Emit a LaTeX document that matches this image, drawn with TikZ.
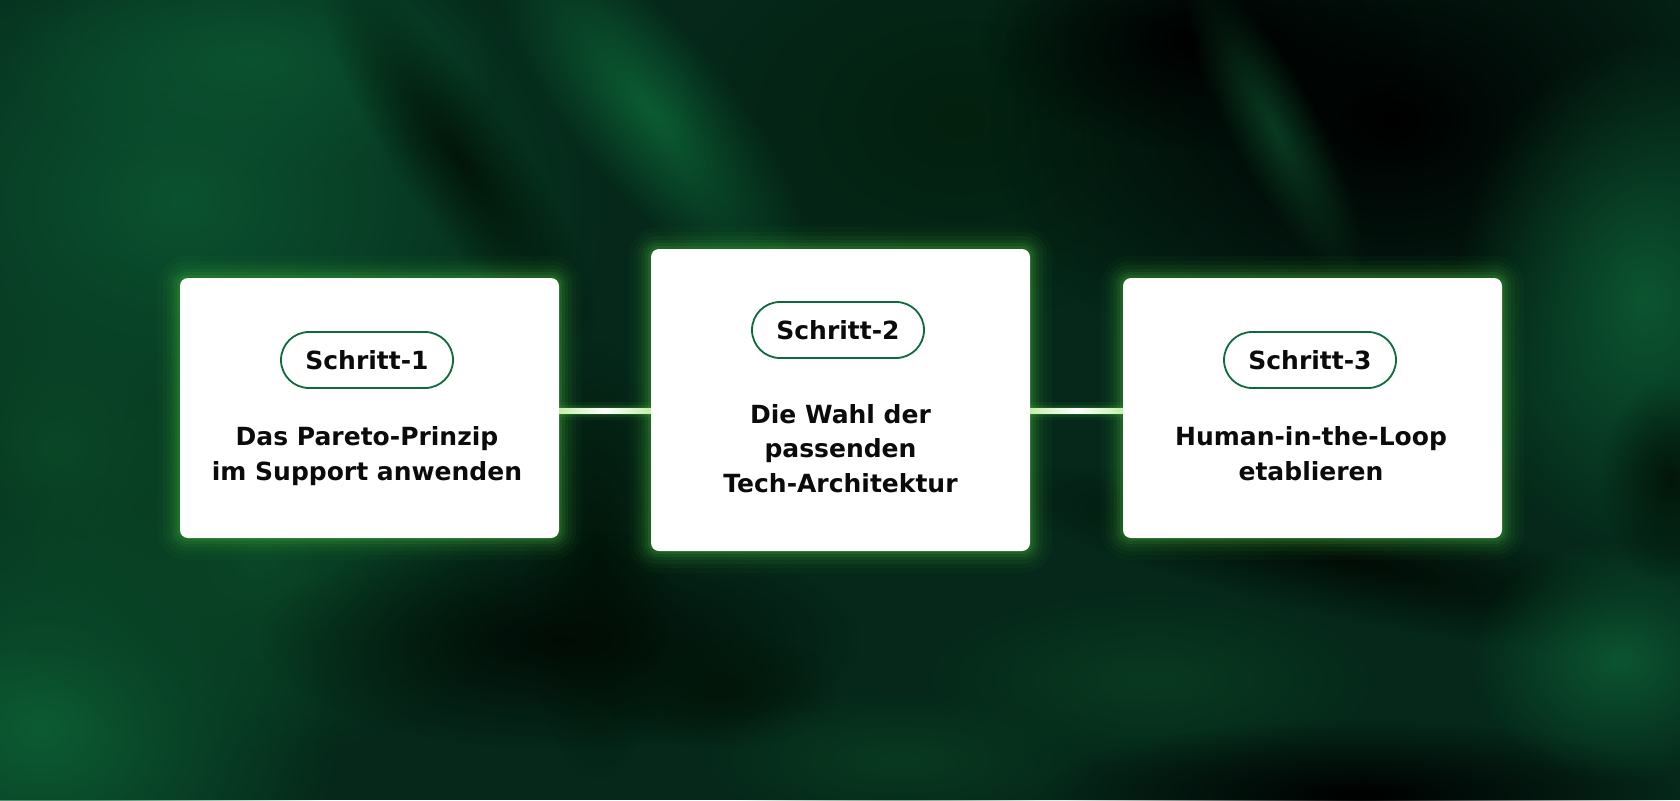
\documentclass[tikz,border=0pt]{standalone}
\usepackage{fontspec}
\newfontfamily\uifont{DejaVu Sans}
\usetikzlibrary{fadings,calc}
\tikzfading[name=blob, inner color=transparent!0, outer color=transparent!100]
\definecolor{bgbase}{HTML}{05281A}
\definecolor{ink}{HTML}{0B0B0B}
\definecolor{pillgreen}{HTML}{0D6B3B}
\definecolor{glowc}{HTML}{43B23A}
\definecolor{linegreen}{HTML}{C4EFA8}
\definecolor{gA}{HTML}{0B5230}
\definecolor{gB}{HTML}{0C5C33}
\definecolor{gC}{HTML}{0A4727}
\definecolor{dA}{HTML}{021609}
\definecolor{dB}{HTML}{010C05}
\definecolor{dC}{HTML}{03200F}
\definecolor{gD}{HTML}{093A20}
\definecolor{gE}{HTML}{0C5531}
\pgfdeclarelayer{back}
\pgfdeclarelayer{glow}
\pgfsetlayers{back,glow,main}
\newcommand{\myblob}[5]{% color, cx, cy, rx, ry
  \fill[#1, path fading=blob] (#2,#3) ellipse (#4 and #5);}
\newcommand{\myrblob}[6]{% color, cx, cy, rx, ry, angle
  \begin{scope}[transform canvas={shift={(#2,#3)},rotate=#6}]
  \fill[#1, path fading=blob] (0,0) ellipse (#4 and #5);
  \end{scope}}
\begin{document}
\begin{tikzpicture}[x=1pt,y=-1pt,
  stepbox/.style={fill=white, rounded corners=8pt, minimum width=379pt, minimum height=260pt, inner sep=0pt},
  pill/.style={draw=pillgreen, line width=1.8pt, fill=white, rounded corners=28pt,
    minimum width=172pt, minimum height=56pt, inner sep=0pt,
    font=\uifont\bfseries\fontsize{25}{30}\selectfont, text=ink},
  body/.style={align=center, inner sep=0pt, text=ink,
    font=\uifont\bfseries\fontsize{25}{34.5}\selectfont},
  glowline/.style={glowc, rounded corners=8pt}]
\useasboundingbox (0,0) rectangle (1680,800);

% boxes
\node[stepbox] (b1) at (369.5,408) {};
\node[stepbox, minimum height=302pt] (b2) at (840.5,400) {};
\node[stepbox] (b3) at (1312.5,408) {};

% pills
\node[pill] (p1) at (367,360) {Schritt-1};
\node[pill] (p2) at (838,330) {Schritt-2};
\node[pill] (p3) at (1310,360) {Schritt-3};

% body texts (base anchor = baseline of the last line)
\node[body, anchor=base] (t1) at (367,480) {Das Pareto-Prinzip\\im Support anwenden};
\node[body, anchor=base] (t2) at (840.5,492) {Die Wahl der\\passenden\\Tech-Architektur};
\node[body, anchor=base] (t3) at (1311,480) {Human-in-the-Loop\\etablieren};

\coordinate (cl) at (0,411);

% connectors
\fill[left color=linegreen, right color=linegreen, middle color=white]
  ($(b1.east |- cl)+(0,-2.5)$) rectangle ($(b2.west |- cl)+(0,2.5)$);
\fill[left color=linegreen, right color=linegreen, middle color=white]
  ($(b2.east |- cl)+(0,-2.5)$) rectangle ($(b3.west |- cl)+(0,2.5)$);

% glows
\begin{pgfonlayer}{glow}
\foreach \b in {b1,b2,b3}{
  \foreach \w/\o in {44/0.04,34/0.05,26/0.07,18/0.09,12/0.12,6/0.16}{
    \draw[glowline, line width=\w pt, opacity=\o] (\b.south west) rectangle (\b.north east);
  }
}
\foreach \w/\o in {18/0.08,12/0.12,8/0.18}{
  \draw[glowc, line width=\w pt, opacity=\o] (b1.east |- cl) -- (b2.west |- cl);
  \draw[glowc, line width=\w pt, opacity=\o] (b2.east |- cl) -- (b3.west |- cl);
}
\end{pgfonlayer}

% background
\begin{pgfonlayer}{back}
\begin{scope}
\clip (0,0) rectangle (1680,800);
\fill[bgbase] (0,0) rectangle (1680,800);
% left greens
\myblob{gA}{180}{200}{430}{340}
\myblob{gA}{250}{60}{250}{120}
\myblob{gC}{60}{450}{200}{200}
\myblob{gB}{40}{730}{300}{240}
\myblob{gC}{260}{560}{260}{200}
% light band top centre
\myrblob{gB}{650}{110}{230}{80}{-50}
% dark arc top centre
\myrblob{dA}{460}{160}{220}{60}{-55}
% dark column between box 1 and 2
\myblob{dA}{598}{560}{75}{220}
% top middle dark green
\myblob{dC}{960}{120}{280}{200}
% top right black
\myblob{black}{1390}{120}{400}{290}
\myblob{black}{1200}{40}{220}{110}
\myrblob{gD}{1275}{130}{170}{45}{-62}
% right green
\myblob{gE}{1645}{300}{190}{260}
% bottom
\myblob{dB}{560}{640}{300}{110}
\myblob{dA}{720}{690}{120}{60}
\myrblob{dB}{1350}{560}{360}{60}{-12}
\myblob{gD}{1150}{680}{230}{90}
\myblob{black}{1360}{795}{320}{75}
\myblob{gE}{1620}{660}{150}{120}
\myblob{dA}{1670}{480}{70}{100}
\myblob{gD}{900}{760}{200}{70}
\end{scope}
\end{pgfonlayer}
\end{tikzpicture}
\end{document}
